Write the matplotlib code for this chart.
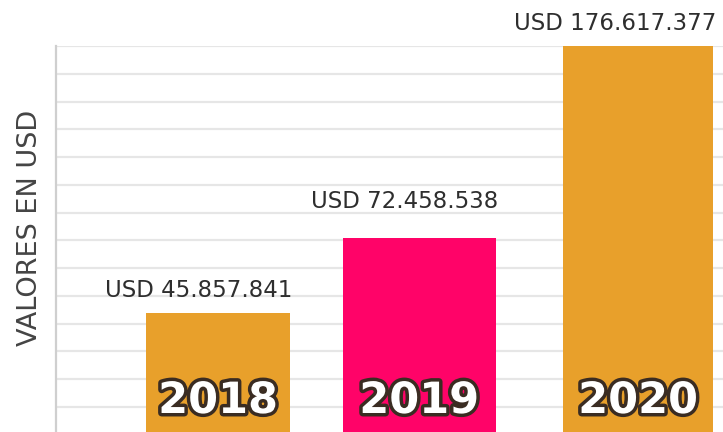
import numpy as np
import matplotlib
matplotlib.use("Agg")
import matplotlib.pyplot as plt
import matplotlib.patheffects as pe

# datos
years = ["2018", "2019", "2020"]
values_musd = [45.857841, 72.458538, 176.617377]
value_labels = ["USD 45.857.841", "USD 72.458.538", "USD 176.617.377"]
bar_colors = ["#E8A02B", "#FF0368", "#E8A02B"]

plt.rcParams['font.family'] = ['DejaVu Sans']

W, H = 723, 432
fig = plt.figure(figsize=(W / 100, H / 100), dpi=100)

# ejes: borde inferior por debajo de la imagen (la grafica original esta recortada)
ax_left, ax_top, ax_bottom = 56, 46, 442
ax = fig.add_axes([ax_left / W, (H - ax_bottom) / H, (W - ax_left) / W, (ax_bottom - ax_top) / H])

y_top = 140.5
ax.set_ylim(0, y_top)
px_per_unit = (ax_bottom - ax_top) / y_top

xpos = np.array([0, 0.958, 2])
ax.set_xlim(-0.771, 2.405)

widths = [0.685, 0.728, 0.718]
ax.bar(xpos, values_musd, width=widths, color=bar_colors, zorder=3)

# lineas de fondo
grid_step = 27.77 / px_per_unit
for gy in y_top - grid_step * np.arange(0, 15):
    if gy > 0:
        ax.axhline(gy, color="#e6e6e6", lw=1.6, zorder=1)

for s in ["top", "right", "bottom"]:
    ax.spines[s].set_visible(False)
ax.spines["left"].set_color("#cfcfcf")
ax.spines["left"].set_linewidth(1.6)
ax.set_xticks([])
ax.set_yticks([])

# etiquetas de valor (alineadas al borde derecho de cada barra)
offsets_px = [16, 30, 16]
for x, w, v, lab, off in zip(xpos, widths, values_musd, value_labels, offsets_px):
    top = min(v, y_top) - 0.5 / px_per_unit
    ax.annotate(lab, xy=(x + w / 2, top), xytext=(2, off * 0.72),
                textcoords="offset points", ha="right", va="baseline",
                fontsize=16.5, color="#2e2e2e", annotation_clip=False, zorder=5)

# años dentro de las barras
for x, yr in zip(xpos, years):
    ax.annotate(yr, xy=(x, 0), xytext=(0, 41 * 0.72), textcoords="offset points",
                ha="center", va="center", fontsize=31, fontweight="bold",
                color="white", zorder=6,
                path_effects=[pe.withStroke(linewidth=5, foreground="#3a2c22")])

fig.text(30 / W, 1 - 228 / H, "VALORES EN USD", rotation=90, ha="center", va="center",
         fontsize=19.5, color="#444444")

fig.savefig("out.png", dpi=100)
